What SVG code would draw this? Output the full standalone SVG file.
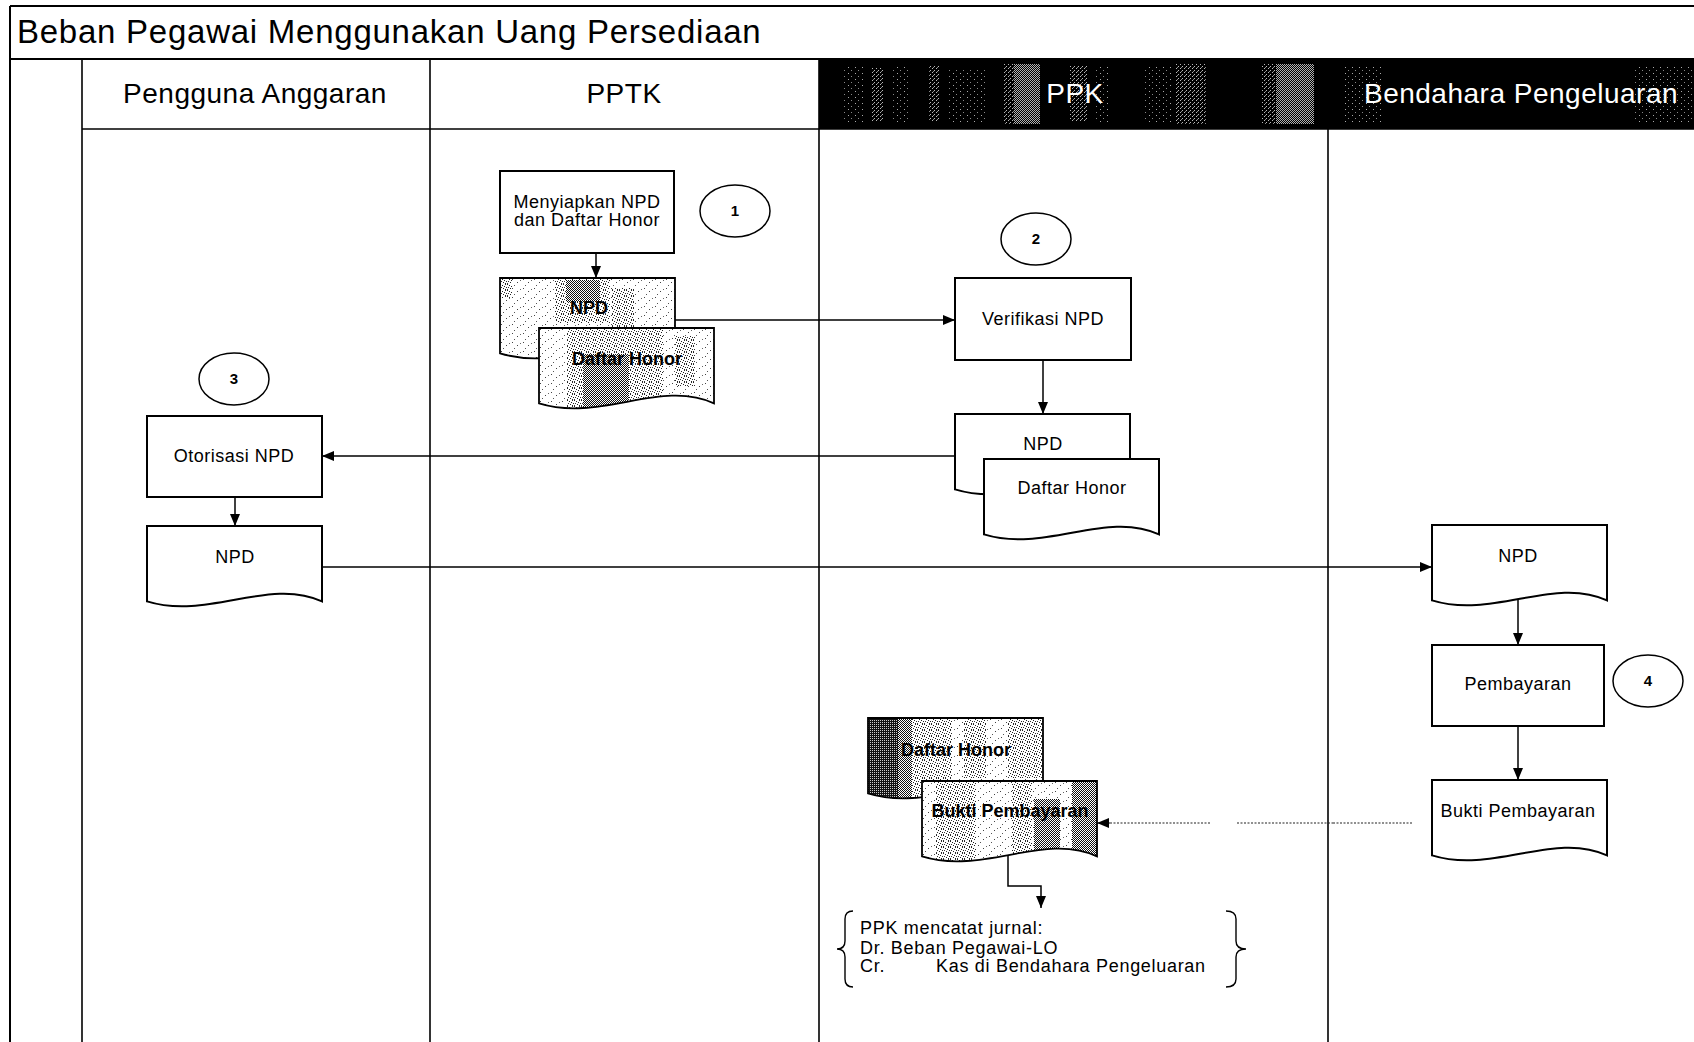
<svg xmlns="http://www.w3.org/2000/svg" xmlns:xlink="http://www.w3.org/1999/xlink" width="1694" height="1042" viewBox="0 0 1694 1042">
  <style>
    text { font-family: "Liberation Sans", Arial, sans-serif; fill: #000; }
    .title { font-size: 33px; letter-spacing: 0.75px; }
    .lane { font-size: 28px; letter-spacing: 0.5px; text-anchor: middle; }
    .lane-dark { fill: #fff; }
    .lbl { font-size: 18px; letter-spacing: 0.5px; text-anchor: middle; }
    .lbl-b { font-weight: bold; letter-spacing: 0; }
    .num { font-size: 15px; font-weight: bold; text-anchor: middle; }
    .note { font-size: 18px; letter-spacing: 0.7px; }
    .frame { stroke: #000; stroke-width: 2; fill: none; }
    .lane-line { stroke: #000; stroke-width: 1.6; fill: none; }
    .box { fill: #fff; stroke: #000; stroke-width: 2; }
    .doc-line { fill: none; stroke: #000; stroke-width: 1.8; }
    .step { fill: #fff; stroke: #000; stroke-width: 1.5; }
    .flow { fill: none; stroke: #000; stroke-width: 1.5; marker-end: url(#arrow); }
    .dotted { fill: none; stroke: #222; stroke-width: 1.2; stroke-dasharray: 2 1.5; }
    .brace { fill: none; stroke: #000; stroke-width: 1.4; }
  </style>
  <defs>
    <marker id="arrow" viewBox="0 0 12 10" refX="12" refY="5" markerWidth="12" markerHeight="10" markerUnits="userSpaceOnUse" orient="auto">
      <path d="M0,0 L12,5 L0,10 Z" fill="#000"/>
    </marker>
    <!-- document symbol: flat top, wavy bottom -->
    <path id="docShape" d="M0,0 H175 V75.4 C122.5,50.8 61.25,94.3 0,75.4 Z"/>
    <clipPath id="docClip"><use xlink:href="#docShape"/></clipPath>
    <!-- halftone textures -->
    <pattern id="speck" width="11" height="9" patternUnits="userSpaceOnUse">
      <rect width="11" height="9" fill="#fff"/>
      <rect x="1" y="1" width="1" height="1" fill="#444"/>
      <rect x="6" y="4" width="1" height="1" fill="#444"/>
      <rect x="9" y="2" width="1" height="1" fill="#666"/>
      <rect x="3" y="7" width="1" height="1" fill="#555"/>
    </pattern>
    <pattern id="noise" width="7" height="6" patternUnits="userSpaceOnUse">
      <rect width="7" height="6" fill="#fff"/>
      <rect x="0" y="0" width="1" height="1" fill="#222"/>
      <rect x="2" y="1" width="1" height="1" fill="#222"/>
      <rect x="5" y="0" width="1" height="1" fill="#333"/>
      <rect x="4" y="2" width="1" height="1" fill="#222"/>
      <rect x="1" y="3" width="1" height="1" fill="#333"/>
      <rect x="6" y="3" width="1" height="1" fill="#222"/>
      <rect x="3" y="4" width="1" height="1" fill="#222"/>
      <rect x="0" y="5" width="1" height="1" fill="#333"/>
      <rect x="5" y="5" width="1" height="1" fill="#222"/>
    </pattern>
    <pattern id="dot50" width="2" height="2" patternUnits="userSpaceOnUse">
      <rect width="2" height="2" fill="#fff"/>
      <rect x="0" y="0" width="1" height="1" fill="#111"/>
      <rect x="1" y="1" width="1" height="1" fill="#111"/>
    </pattern>
    <pattern id="dot75" width="2" height="2" patternUnits="userSpaceOnUse">
      <rect width="2" height="2" fill="#111"/>
      <rect x="0" y="0" width="1" height="1" fill="#ccc"/>
    </pattern>
    <pattern id="hdrDense" width="2" height="2" patternUnits="userSpaceOnUse">
      <rect width="2" height="2" fill="#000"/>
      <rect x="0" y="0" width="1" height="1" fill="#b0b0b0"/>
      <rect x="1" y="1" width="1" height="1" fill="#b0b0b0"/>
    </pattern>
    <pattern id="hdrMid" width="4" height="4" patternUnits="userSpaceOnUse">
      <rect width="4" height="4" fill="#000"/>
      <rect x="0" y="0" width="1" height="1" fill="#b8b8b8"/>
      <rect x="2" y="2" width="1" height="1" fill="#b8b8b8"/>
      <rect x="1" y="3" width="1" height="1" fill="#888"/>
    </pattern>
    <pattern id="hdrSparse" width="7" height="6" patternUnits="userSpaceOnUse">
      <rect width="7" height="6" fill="#000"/>
      <rect x="1" y="1" width="1" height="1" fill="#aaa"/>
      <rect x="4" y="4" width="1" height="1" fill="#888"/>
    </pattern>
  </defs>

  <rect width="1694" height="1042" fill="#fff"/>

  <!-- swimlane frame -->
  <g id="frame">
    <line class="frame" x1="10" y1="6" x2="1694" y2="6"/>
    <line class="frame" x1="10" y1="6" x2="10" y2="1042"/>
    <line class="frame" x1="10" y1="59" x2="1694" y2="59"/>
    <text class="title" x="17" y="43">Beban Pegawai Menggunakan Uang Persediaan</text>

    <!-- dark header cells with halftone streaks -->
    <rect x="819" y="59" width="875" height="70" fill="#000"/>
    <rect x="842" y="66" width="22" height="56" fill="url(#hdrSparse)"/>
    <rect x="872" y="68" width="12" height="54" fill="url(#hdrMid)"/>
    <rect x="893" y="66" width="16" height="56" fill="url(#hdrSparse)"/>
    <rect x="929" y="66" width="11" height="56" fill="url(#hdrMid)"/>
    <rect x="948" y="70" width="39" height="52" fill="url(#hdrSparse)"/>
    <rect x="1004" y="64" width="10" height="60" fill="url(#hdrMid)"/>
    <rect x="1014" y="64" width="26" height="60" fill="url(#hdrDense)"/>
    <rect x="1070" y="66" width="18" height="56" fill="url(#hdrMid)"/>
    <rect x="1096" y="66" width="14" height="56" fill="url(#hdrSparse)"/>
    <rect x="1143" y="66" width="30" height="56" fill="url(#hdrSparse)"/>
    <rect x="1176" y="64" width="30" height="60" fill="url(#hdrMid)"/>
    <rect x="1262" y="64" width="14" height="60" fill="url(#hdrMid)"/>
    <rect x="1276" y="64" width="38" height="60" fill="url(#hdrDense)"/>
    <rect x="1344" y="66" width="39" height="56" fill="url(#hdrSparse)"/>
    <rect x="1634" y="66" width="60" height="56" fill="url(#hdrSparse)"/>

    <line class="lane-line" x1="82" y1="129" x2="1694" y2="129"/>
    <line class="lane-line" x1="82" y1="59" x2="82" y2="1042"/>
    <line class="lane-line" x1="430" y1="59" x2="430" y2="1042"/>
    <line class="lane-line" x1="819" y1="59" x2="819" y2="1042"/>
    <line class="lane-line" x1="1328" y1="129" x2="1328" y2="1042"/>

    <text class="lane" x="255" y="103">Pengguna Anggaran</text>
    <text class="lane" x="624" y="103">PPTK</text>
    <text class="lane lane-dark" x="1075" y="103">PPK</text>
    <text class="lane lane-dark" x="1521" y="103">Bendahara Pengeluaran</text>
  </g>

  <!-- connectors -->
  <g id="connectors">
    <line class="flow" x1="596" y1="253" x2="596" y2="278"/>
    <line class="flow" x1="675" y1="320" x2="955" y2="320"/>
    <line class="flow" x1="1043" y1="360" x2="1043" y2="414"/>
    <line class="flow" x1="955" y1="456" x2="322" y2="456"/>
    <line class="flow" x1="235" y1="497" x2="235" y2="526"/>
    <line class="flow" x1="322" y1="567" x2="1432" y2="567"/>
    <line class="flow" x1="1518" y1="600" x2="1518" y2="645"/>
    <line class="flow" x1="1518" y1="726" x2="1518" y2="780"/>
    <line class="dotted" x1="1333" y1="823" x2="1412" y2="823" stroke-dasharray="2 5"/>
    <line class="dotted" x1="1237" y1="823" x2="1333" y2="823"/>
    <line class="dotted" x1="1110" y1="823" x2="1210" y2="823"/>
    <path d="M1110,823 L1097,823" fill="none" stroke="#000" stroke-width="1" marker-end="url(#arrow)"/>
    <polyline class="flow" points="1008,855 1008,886 1041,886 1041,908"/>
  </g>

  <!-- PPTK lane -->
  <g id="n-menyiapkan">
    <rect class="box" x="500" y="171" width="174" height="82"/>
    <text class="lbl" x="587" y="208">Menyiapkan NPD</text>
    <text class="lbl" x="587" y="226">dan Daftar Honor</text>
  </g>
  <g id="n-step1">
    <ellipse class="step" cx="735" cy="211" rx="35" ry="26"/>
    <text class="num" x="735" y="216">1</text>
  </g>
  <g id="n-npd-pptk" transform="translate(500,278)">
    <use xlink:href="#docShape" fill="url(#speck)"/>
    <g clip-path="url(#docClip)">
      <rect x="55" y="0" width="55" height="45" fill="url(#noise)"/>
      <rect x="66" y="2" width="34" height="22" fill="url(#dot50)"/>
      <rect x="112" y="10" width="22" height="40" fill="url(#noise)"/>
      <rect x="0" y="0" width="12" height="20" fill="url(#noise)"/>
    </g>
    <use xlink:href="#docShape" class="doc-line"/>
    <text class="lbl lbl-b" x="89" y="36">NPD</text>
  </g>
  <g id="n-honor-pptk" transform="translate(539,328)">
    <use xlink:href="#docShape" fill="url(#speck)"/>
    <g clip-path="url(#docClip)">
      <rect x="28" y="0" width="96" height="84" fill="url(#noise)"/>
      <rect x="44" y="26" width="46" height="58" fill="url(#dot50)"/>
      <rect x="136" y="8" width="20" height="50" fill="url(#noise)"/>
    </g>
    <use xlink:href="#docShape" class="doc-line"/>
    <text class="lbl lbl-b" x="88" y="37">Daftar Honor</text>
  </g>

  <!-- PPK lane -->
  <g id="n-step2">
    <ellipse class="step" cx="1036" cy="239" rx="35" ry="26"/>
    <text class="num" x="1036" y="244">2</text>
  </g>
  <g id="n-verifikasi">
    <rect class="box" x="955" y="278" width="176" height="82"/>
    <text class="lbl" x="1043" y="325">Verifikasi NPD</text>
  </g>
  <g id="n-npd-ppk" transform="translate(955,414)">
    <use xlink:href="#docShape" class="box"/>
    <text class="lbl" x="88" y="36">NPD</text>
  </g>
  <g id="n-honor-ppk" transform="translate(984,459)">
    <use xlink:href="#docShape" class="box"/>
    <text class="lbl" x="88" y="35">Daftar Honor</text>
  </g>
  <g id="n-honor-arsip" transform="translate(868,718)">
    <use xlink:href="#docShape" fill="url(#speck)"/>
    <g clip-path="url(#docClip)">
      <rect x="0" y="0" width="30" height="90" fill="url(#dot75)"/>
      <rect x="30" y="0" width="14" height="90" fill="url(#dot50)"/>
      <rect x="44" y="0" width="40" height="90" fill="url(#noise)"/>
      <rect x="96" y="0" width="22" height="60" fill="url(#noise)"/>
      <rect x="140" y="0" width="35" height="60" fill="url(#noise)"/>
    </g>
    <use xlink:href="#docShape" class="doc-line"/>
    <text class="lbl lbl-b" x="88" y="38">Daftar Honor</text>
  </g>
  <g id="n-bukti-ppk" transform="translate(922,781)">
    <use xlink:href="#docShape" fill="url(#speck)"/>
    <g clip-path="url(#docClip)">
      <rect x="14" y="0" width="40" height="90" fill="url(#noise)"/>
      <rect x="90" y="0" width="20" height="90" fill="url(#noise)"/>
      <rect x="112" y="18" width="26" height="64" fill="url(#dot50)"/>
      <rect x="150" y="0" width="25" height="80" fill="url(#dot50)"/>
    </g>
    <use xlink:href="#docShape" class="doc-line"/>
    <text class="lbl lbl-b" x="88" y="36">Bukti Pembayaran</text>
  </g>
  <g id="n-jurnal">
    <path class="brace" d="M853,911 Q845,911 845,919 V941 Q845,949 837,949 Q845,949 845,957 V979 Q845,987 853,987"/>
    <path class="brace" d="M1226,911 Q1236,911 1236,919 V941 Q1236,949 1246,949 Q1236,949 1236,957 V979 Q1236,987 1226,987"/>
    <text class="note" x="860" y="934">PPK mencatat jurnal:</text>
    <text class="note" x="860" y="954">Dr. Beban Pegawai-LO</text>
    <text class="note" y="972"><tspan x="860">Cr.</tspan><tspan x="936">Kas di Bendahara Pengeluaran</tspan></text>
  </g>

  <!-- Pengguna Anggaran lane -->
  <g id="n-step3">
    <ellipse class="step" cx="234" cy="379" rx="35" ry="26"/>
    <text class="num" x="234" y="384">3</text>
  </g>
  <g id="n-otorisasi">
    <rect class="box" x="147" y="416" width="175" height="81"/>
    <text class="lbl" x="234" y="462">Otorisasi NPD</text>
  </g>
  <g id="n-npd-pa" transform="translate(147,526)">
    <use xlink:href="#docShape" class="box"/>
    <text class="lbl" x="88" y="37">NPD</text>
  </g>

  <!-- Bendahara Pengeluaran lane -->
  <g id="n-npd-bp" transform="translate(1432,525)">
    <use xlink:href="#docShape" class="box"/>
    <text class="lbl" x="86" y="37">NPD</text>
  </g>
  <g id="n-pembayaran">
    <rect class="box" x="1432" y="645" width="172" height="81"/>
    <text class="lbl" x="1518" y="690">Pembayaran</text>
  </g>
  <g id="n-step4">
    <ellipse class="step" cx="1648" cy="681" rx="35" ry="26"/>
    <text class="num" x="1648" y="686">4</text>
  </g>
  <g id="n-bukti-bp" transform="translate(1432,780)">
    <use xlink:href="#docShape" class="box"/>
    <text class="lbl" x="86" y="37">Bukti Pembayaran</text>
  </g>
</svg>
